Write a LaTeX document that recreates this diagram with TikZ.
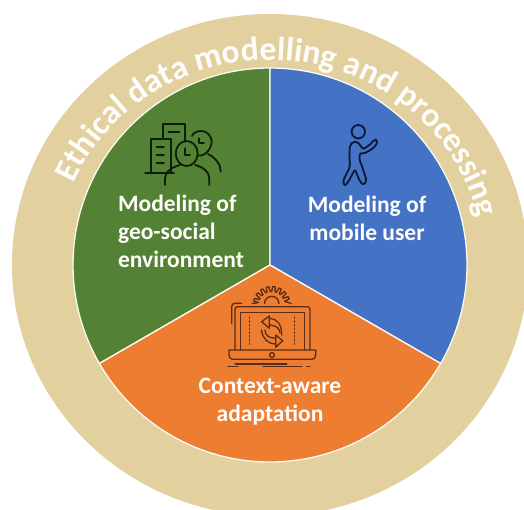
\documentclass[tikz,border=0pt]{standalone}
\usepackage{fontspec}
\setmainfont{Carlito}
\usetikzlibrary{decorations.text}
\definecolor{ringtan}{RGB}{226,208,158}
\definecolor{leafgreen}{RGB}{84,130,53}
\definecolor{skyblue}{RGB}{68,114,196}
\definecolor{burntorange}{RGB}{237,125,49}
\definecolor{darkbrown}{RGB}{92,44,20}
\definecolor{iconnavy}{RGB}{12,24,52}
\definecolor{icongreen}{RGB}{14,28,10}
\tikzset{
  sector/.style={draw=white!90!ringtan,line width=1.3pt},
  lab/.style={text=white!96!ringtan,font=\bfseries\fontsize{23.5}{28}\selectfont,align=center,inner sep=0pt},
  greenicon/.style={draw=icongreen,line width=1.8pt,line cap=round,line join=round},
  blueicon/.style={draw=iconnavy,line width=1.8pt,line cap=round,line join=round},
  orangeicon/.style={draw=darkbrown,line width=1.3pt,line cap=round,line join=round},
}
\begin{document}
\begin{tikzpicture}[x=1pt,y=-1pt]
\useasboundingbox (0,0) rectangle (524,510);
\fill[white] (0,0) rectangle (524,510);
\begin{scope}
\clip (0,0) rectangle (524,510);
\fill[ringtan] (270,265) ellipse[x radius=258,y radius=251];
\end{scope}
% sectors
\coordinate (c) at (270,265);
\path[sector,fill=leafgreen] (c) -- (270,68) arc[start angle=-90,end angle=-210,radius=197] -- cycle;
\path[sector,fill=skyblue] (c) -- (270,68) arc[start angle=-90,end angle=30,radius=197] -- cycle;
\path[sector,fill=burntorange] (c) -- (440.6,363.5) arc[start angle=30,end angle=150,radius=197] -- cycle;
% ring text
\path[postaction={decorate,decoration={text along path,text align=center,
  text={|\bfseries\fontsize{33.6}{33.6}\selectfont\color{white!96!ringtan}|Ethical data modelling and processing}}}]
  (76,178.4) arc[start angle=-155,end angle=-15,x radius=214,y radius=205];
% labels
\node[lab,align=left] (geo) at (181,231) {Modeling of\\geo-social\\environment};
\node[lab] (user) at (367,218) {Modeling of\\mobile user};
\node[lab] (ctx) at (270,402) {Context-aware\\adaptation};
% city/people icon
\begin{scope}[greenicon]
\draw (145,172.7) -- (174,172.7);
\draw (150.7,172.7) -- (150.7,139.3) -- (170.7,139.3) -- (170.7,172.7);
\draw (163.3,139) -- (163.3,124) -- (185,124) -- (185,141.7);
\draw (168.3,131.7) -- (179.3,131.7);
\draw (156.7,147.3) -- (164,147.3) (156.7,155) -- (164,155) (156.7,162.7) -- (164,162.7);
\draw (186.7,153.5) ellipse[x radius=11,y radius=12.5];
\draw (185,148.3) -- (185,155) -- (190,155);
\draw (192,136) .. controls (194,130) and (207,128) .. (211,138)
  .. controls (214,146) and (206,157) .. (198,155.5);
\draw (199.3,138.3) -- (199.3,143.3) -- (204,143.3);
\draw (165,185) -- (165,178) .. controls (165,172) and (172,167) .. (180,165);
\draw (195,165) .. controls (203,167) and (209.3,172) .. (209.3,178) -- (209.3,185);
\draw (208,154) .. controls (216,158) and (221,165) .. (220.7,171.7);
\end{scope}
% walking user icon
\begin{scope}[blueicon]
\draw (358.3,131.7) circle[radius=6.7];
\draw[rounded corners=2pt] (350,145) -- (353.3,141.7) -- (357.3,141.7) -- (360,145)
  -- (363.3,149.3) -- (371.7,143.3) -- (374,139.3) -- (377.3,140) -- (377.3,143.3)
  -- (373.3,148.3) -- (363.3,154) -- (360,152.7) -- (359.3,160) -- (361.7,165)
  -- (366.7,181) -- (363.3,185) -- (360,181.7) -- (355,169.3) -- (348.3,181.7)
  -- (345,186) -- (342.7,181.7) -- (350,166.7) -- (349.3,153.3) -- cycle;
\end{scope}
% laptop icon
\begin{scope}[orangeicon]
\draw (264.5,303.5) arc[start angle=180,end angle=360,radius=7.2];
\draw (252,303.5) foreach \a in {190,210,230,250,270,290,310,330} {
   -- ({271.7+13.5*cos(\a)},{305-13.5*sin(\a)*-1})
   -- ({271.7+18.5*cos(\a+3)},{305-18.5*sin(\a+3)*-1})
   -- ({271.7+18.5*cos(\a+11)},{305-18.5*sin(\a+11)*-1})
   -- ({271.7+13.5*cos(\a+14)},{305-13.5*sin(\a+14)*-1})
} -- (291,303.5);
\draw (231.7,323.3) -- (231.7,306.7) .. controls (231.7,304.5) and (233,303.3) .. (235,303.3) -- (241.7,303.3);
\draw (235,350) -- (235,309.5) .. controls (235,307.5) and (236,306.7) .. (238,306.7)
  -- (307,306.7) .. controls (309,306.7) and (310,307.5) .. (310,309.5) -- (310,350);
\draw (240.7,350) -- (240.7,312.7) -- (304.3,312.7) -- (304.3,350);
\draw (229,350) -- (315.7,350) -- (315.7,355) .. controls (315.7,358) and (314,359.3) .. (312,359.3)
  -- (233,359.3) .. controls (231,359.3) and (229,358) .. (229,355) -- cycle;
\draw (272,355) circle[radius=2.4];
\draw (235,364) -- (286.7,364);
\draw (228,366.7) -- (238,366.7) (263,366.7) -- (301.7,366.7) (306.7,366.7) -- (310,366.7);
\draw[dash pattern=on 1.5pt off 2.2pt] (249.3,317) -- (249.3,345);
\draw[dash pattern=on 1.5pt off 2.2pt] (294.3,317) -- (294.3,345);
\draw (261.7,321.7) -- (269.3,316) -- (269.3,328.3) -- cycle;
\draw (269.3,318.3) .. controls (276,318.5) and (281.7,323) .. (281.7,335);
\draw (269.3,325) .. controls (275,325) and (280,328) .. (280,333);
\draw (282.7,340.7) -- (275.7,335) -- (275.7,347.3) -- cycle;
\draw (261.7,330) .. controls (261.7,338) and (268,344) .. (275.7,344);
\draw (265,330) .. controls (265,335) and (269,338.3) .. (275.7,338.3);
\end{scope}
\end{tikzpicture}
\end{document}
